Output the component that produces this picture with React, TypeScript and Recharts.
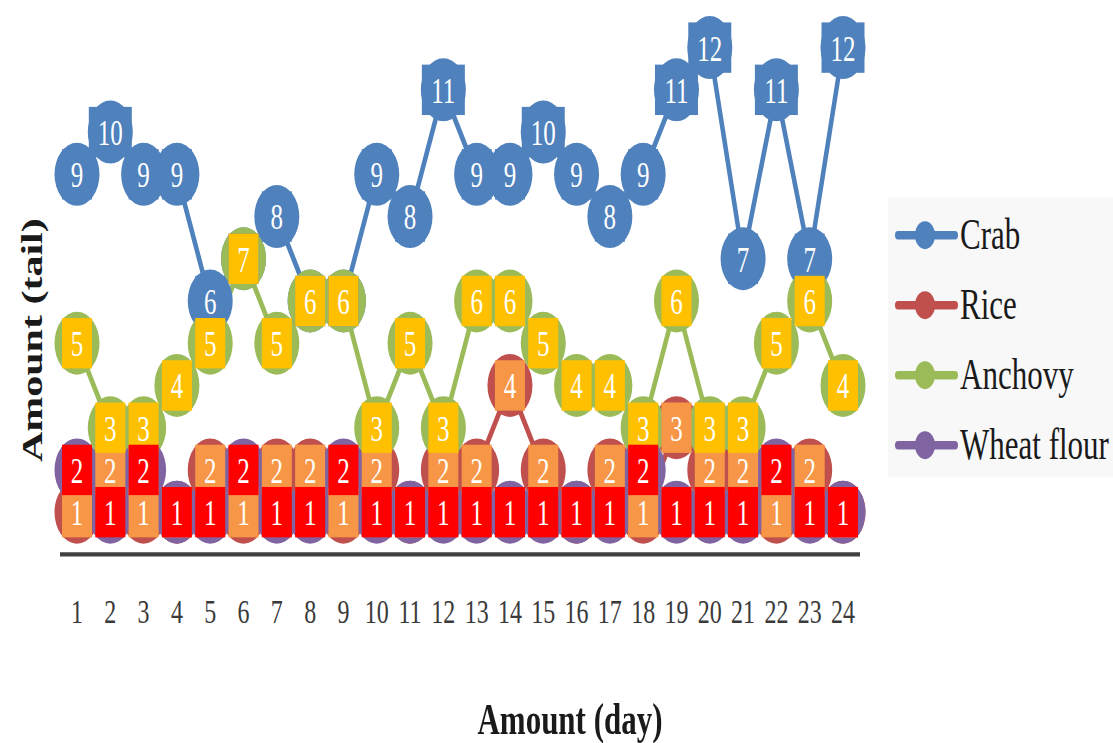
import { LineChart, Line, XAxis, YAxis } from 'recharts'

// categories
const days = ['1', '2', '3', '4', '5', '6', '7', '8', '9', '10', '11', '12', '13', '14', '15', '16', '17', '18', '19', '20', '21', '22', '23', '24']

// series values
const crab = [9, 10, 9, 9, 6, 7, 8, 6, 6, 9, 8, 11, 9, 9, 10, 9, 8, 9, 11, 12, 7, 11, 7, 12]
const rice = [1, 2, 1, 1, 2, 1, 2, 2, 1, 2, 1, 2, 2, 4, 2, 1, 2, 1, 3, 2, 2, 1, 2, 1]
const anchovy = [5, 3, 3, 4, 5, 7, 5, 6, 6, 3, 5, 3, 6, 6, 5, 4, 4, 3, 6, 3, 3, 5, 6, 4]
const wheatFlour = [2, 1, 2, 1, 1, 2, 1, 1, 2, 1, 1, 1, 1, 1, 1, 1, 1, 2, 1, 1, 1, 2, 1, 1]

const seriesNames = ['Crab', 'Rice', 'Anchovy', 'Wheat flour']
const seriesKeys = ['crab', 'rice', 'anchovy', 'wheat']
const lineColors = ['#4F81BD', '#C0504D', '#9BBB59', '#8064A2']
const labelColors = ['#4F81BD', '#F79646', '#FFC000', '#FF0000']

const data = days.map((day, i) => ({
  day,
  crab: crab[i],
  rice: rice[i],
  anchovy: anchovy[i],
  wheat: wheatFlour[i],
}))

// the reference is stretched vertically, so the whole chart is drawn flatter and scaled up
const SCALE_Y = 1.4
const W = 1113
const H = 530
const SERIF = "'Liberation Serif', 'Times New Roman', serif"

const marker = (color: string) => (p: any) => (
  <circle key={`m-${p.index}`} cx={p.cx} cy={p.cy} r={22.5} fill={color} />
)

const labelBox = (key: string, fill: string) => (p: any) => {
  const value = p.payload?.[key]
  const w = String(value).length > 1 ? 43 : 30
  const h = 36
  return (
    <g key={`l-${p.index}`}>
      <rect x={p.cx - w / 2} y={p.cy - h / 2} width={w} height={h} fill={fill} />
      <text
        x={p.cx}
        y={p.cy + 1}
        textAnchor="middle"
        dominantBaseline="central"
        fill="#fff"
        fontSize={25}
        fontFamily={SERIF}
      >
        {value}
      </text>
    </g>
  )
}

const DayTick = ({ x, y, payload }: any) => (
  <text
    x={x}
    y={y + 41}
    textAnchor="middle"
    dominantBaseline="central"
    fill="#3a3a3a"
    fontSize={24}
    fontFamily={SERIF}
  >
    {payload.value}
  </text>
)

export default function App() {
  return (
    <div
      style={{
        position: 'absolute',
        left: 0,
        top: 0,
        width: W,
        height: H,
        transform: `scaleY(${SCALE_Y})`,
        transformOrigin: '0 0',
        background: '#fff',
        fontFamily: SERIF,
      }}
    >
      <LineChart width={W} height={H} data={data} margin={{ top: 34, right: 253, bottom: 74, left: 60 }}>
        <XAxis
          dataKey="day"
          interval={0}
          height={60}
          padding={{ left: 17, right: 17 }}
          axisLine={{ stroke: '#404040', strokeWidth: 3 }}
          tickLine={false}
          tickSize={0}
          tickMargin={0}
          tick={<DayTick />}
        />
        <YAxis hide domain={[0, 12]} />

        {seriesKeys.map((key, i) => (
          <Line
            key={key}
            dataKey={key}
            name={seriesNames[i]}
            type="linear"
            stroke={lineColors[i]}
            strokeWidth={4.5}
            dot={marker(lineColors[i])}
            activeDot={false}
            isAnimationActive={false}
          />
        ))}

        {/* data labels sit above every marker, as in the original */}
        {seriesKeys.map((key, i) => (
          <Line
            key={`${key}-labels`}
            dataKey={key}
            type="linear"
            stroke="none"
            legendType="none"
            dot={labelBox(key, labelColors[i])}
            activeDot={false}
            isAnimationActive={false}
          />
        ))}
      </LineChart>

      <div
        style={{
          position: 'absolute',
          left: 32,
          top: 243,
          transform: 'translate(-50%, -50%) rotate(-90deg)',
          whiteSpace: 'nowrap',
          fontSize: 30,
          fontWeight: 'bold',
          lineHeight: 1,
          color: '#1a1a1a',
        }}
      >
        Amount (tail)
      </div>

      <div
        style={{
          position: 'absolute',
          left: 570,
          top: 514,
          transform: 'translate(-50%, -50%)',
          whiteSpace: 'nowrap',
          fontSize: 31,
          fontWeight: 'bold',
          lineHeight: 1,
          color: '#1a1a1a',
        }}
      >
        Amount (day)
      </div>

      <div
        style={{
          position: 'absolute',
          left: 888,
          top: 141,
          width: 225,
          height: 200,
          background: '#F8F8F8',
          overflow: 'hidden',
          paddingTop: 2,
          boxSizing: 'border-box',
        }}
      >
        {seriesNames.map((name, i) => (
          <div key={name} style={{ display: 'flex', alignItems: 'center', height: 50 }}>
            <svg width={72} height={50} style={{ flex: 'none' }}>
              <line x1={10} y1={25} x2={67} y2={25} stroke={lineColors[i]} strokeWidth={6} strokeLinecap="round" />
              <circle cx={37} cy={25} r={10} fill={lineColors[i]} />
            </svg>
            <span style={{ fontSize: 31, lineHeight: '50px', color: '#1a1a1a', whiteSpace: 'nowrap' }}>{name}</span>
          </div>
        ))}
      </div>
    </div>
  )
}
